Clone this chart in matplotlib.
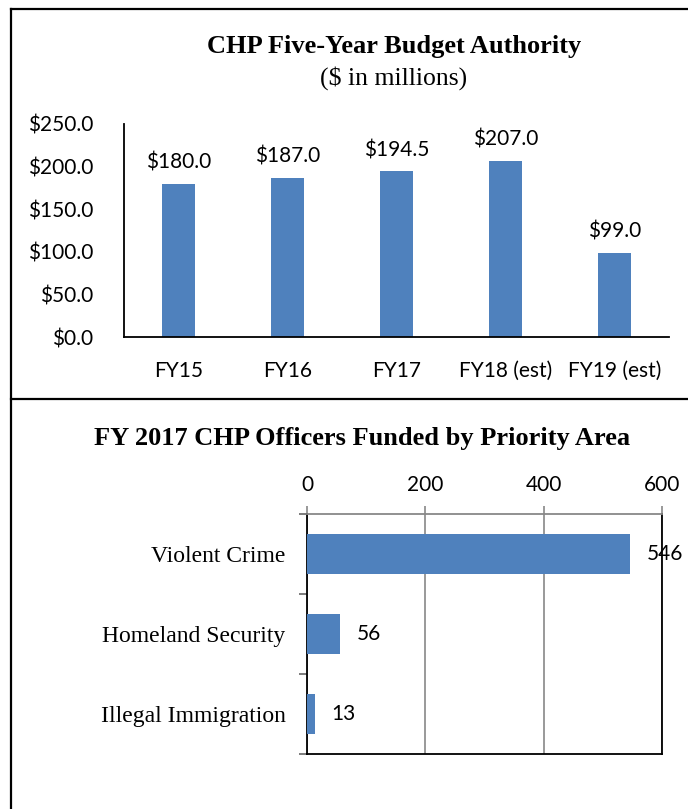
import matplotlib
matplotlib.use("Agg")
import matplotlib.pyplot as plt
from matplotlib.lines import Line2D

# -- data --
budget_years = ["FY15", "FY16", "FY17", "FY18 (est)", "FY19 (est)"]
budget_values = [180.0, 187.0, 194.5, 207.0, 99.0]
budget_ticks = [0, 50, 100, 150, 200, 250]

priority_areas = ["Violent Crime", "Homeland Security", "Illegal Immigration"]
officers = [546, 56, 13]
officer_ticks = [0, 200, 400, 600]

BLUE = "#4F81BD"
SANS = ["Lato", "DejaVu Sans"]
SERIF = ["Liberation Serif", "DejaVu Serif"]

W, H = 688, 809
fig = plt.figure(figsize=(W / 100, H / 100), dpi=100)


def box(l, t, r, b):
    # pixel box (from top-left) -> figure fraction rect
    return [l / W, 1 - b / H, (r - l) / W, (b - t) / H]


# -- outer frame and divider --
for xs, ys in [([11 / W, 11 / W], [1 - 9 / H, 0]),
               ([11 / W, 1], [1 - 9 / H, 1 - 9 / H]),
               ([11 / W, 1], [1 - 399 / H, 1 - 399 / H])]:
    fig.add_artist(Line2D(xs, ys, color="black", lw=1.6, transform=fig.transFigure))

# -- top panel: budget authority --
ax = fig.add_axes(box(124, 124, 669, 337))
x = range(len(budget_years))
bars = ax.bar(x, budget_values, width=0.31, color=BLUE)
ax.set_xlim(-0.5, len(budget_years) - 0.5)
ax.set_ylim(0, 250)
ax.set_yticks(budget_ticks)
ax.set_yticklabels([f"${v:.1f}" for v in budget_ticks], family=SANS, fontsize=15)
ax.set_xticks(list(x))
ax.set_xticklabels(budget_years, family=SANS, fontsize=15)
ax.tick_params(axis="both", length=0)
ax.tick_params(axis="y", pad=22)
ax.tick_params(axis="x", pad=17)
for s in ["top", "right"]:
    ax.spines[s].set_visible(False)
for s in ["left", "bottom"]:
    ax.spines[s].set_linewidth(1.3)
for bar, val in zip(bars, budget_values):
    ax.annotate(f"${val:.1f}", (bar.get_x() + bar.get_width() / 2, val),
                textcoords="offset points", xytext=(0, 8),
                ha="center", va="bottom", family=SANS, fontsize=15)

fig.text(394 / W, 1 - 47 / H, "CHP Five-Year Budget Authority", ha="center", va="center",
         family=SERIF, fontsize=19, fontweight="bold")
fig.text(394 / W, 1 - 78 / H, "($ in millions)", ha="center", va="center",
         family=SERIF, fontsize=18.5)

# -- bottom panel: officers by priority area --
ax2 = fig.add_axes(box(307, 514, 662, 754))
y = range(len(priority_areas))
hbars = ax2.barh(y, officers, height=0.5, color=BLUE, zorder=3)
ax2.set_xlim(0, 600)
ax2.set_ylim(len(priority_areas) - 0.5, -0.5)
ax2.xaxis.tick_top()
ax2.set_xticks(officer_ticks)
ax2.set_xticklabels([str(v) for v in officer_ticks], family=SANS, fontsize=15)
ax2.tick_params(axis="x", length=6, color="#888888", width=1.2, pad=7.5)
ax2.set_yticks([i - 0.5 for i in range(len(priority_areas) + 1)], minor=False)
ax2.set_yticklabels([])
ax2.set_yticks(list(y), minor=True)
ax2.set_yticklabels(priority_areas, minor=True, family=SERIF, fontsize=17)
ax2.tick_params(axis="y", which="major", length=6, color="#666666", width=1.2)
ax2.tick_params(axis="y", which="minor", length=0, pad=15.5)
ax2.grid(axis="x", color="#888888", lw=1.2, zorder=0)
ax2.spines["top"].set_color("#888888")
for s in ["top", "left", "bottom", "right"]:
    ax2.spines[s].set_linewidth(1.3)
for bar, val in zip(hbars, officers):
    ax2.annotate(str(val), (val, bar.get_y() + bar.get_height() / 2),
                 textcoords="offset points", xytext=(12, 0),
                 ha="left", va="center", family=SANS, fontsize=15, zorder=4)

fig.text(362 / W, 1 - 439 / H, "FY 2017 CHP Officers Funded by Priority Area", ha="center",
         va="center", family=SERIF, fontsize=19, fontweight="bold")

fig.savefig("out.png", dpi=100)
